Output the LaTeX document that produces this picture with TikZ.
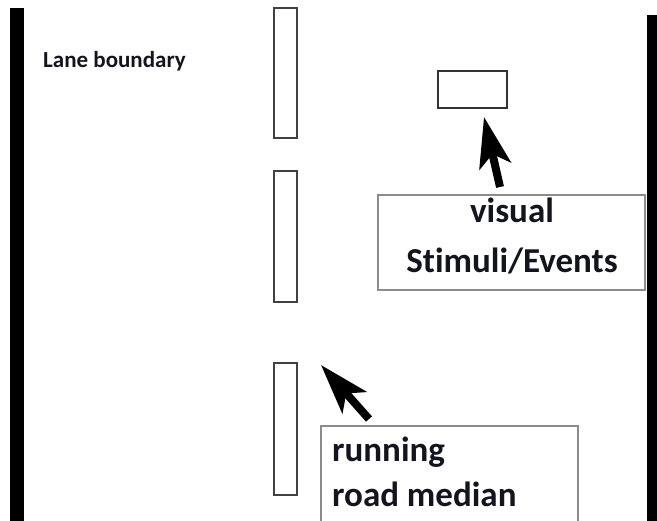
\documentclass[tikz,border=0pt]{standalone}
\usepackage{fontspec}
\setmainfont[Ligatures={NoCommon,NoRare,NoContextual}]{Carlito}
\usetikzlibrary{arrows.meta}
\definecolor{txt}{HTML}{14141E}
\tikzset{
  bar/.style={fill=black, draw=none},
  median/.style={draw=black!75, line width=1.3pt, fill=white, inner sep=0pt},
  labelbox/.style={draw=black!45, line width=1.3pt, inner sep=0pt},
  bigtxt/.style={inner sep=0pt, text=txt, font=\fontsize{35}{45}\selectfont\bfseries},
  smalltxt/.style={inner sep=0pt, text=txt, font=\fontsize{23}{28}\selectfont\bfseries},
  pointer/.style={line width=8pt, -{Stealth[length=50pt, width=32pt, inset=12pt]}}
}
\begin{document}
\begin{tikzpicture}[x=1pt, y=-1pt]
\useasboundingbox (0,0) rectangle (657,521);
% lane boundaries
\path[bar] (10,8) rectangle (24,521);
\path[bar] (647,15) rectangle (657,521);
\node[smalltxt, anchor=base west] (lane) at (43,68) {Lane boundary};
% running road median segments
\node[median, minimum width=23pt, minimum height=130pt] (m1) at (285.5,73) {};
\node[median, minimum width=23pt, minimum height=131pt] (m2) at (285.5,236.5) {};
\node[median, minimum width=23pt, minimum height=132pt] (m3) at (285.5,429) {};
% stimulus
\node[draw=black!80, line width=1.3pt, inner sep=0pt, minimum width=69pt, minimum height=37pt] (stim) at (472.5,89.5) {};
% visual box
\node[labelbox, minimum width=267pt, minimum height=95pt] (vbox) at (511.5,242.5) {};
\node[bigtxt, anchor=base] (v1) at (512,223) {visual};
\node[bigtxt, anchor=base] (v2) at (512,273) {Stimuli/Events};
\coordinate (vtail) at (500,187);
\coordinate (vtip) at (484,117);
\draw[pointer] (vtail) -- (vtip);
% running box (runs off the bottom)
\coordinate (rbl) at (321,521);
\coordinate (rtl) at (321,426);
\coordinate (rtr) at (578,426);
\coordinate (rbr) at (578,521);
\draw[draw=black!45, line width=1.3pt] (rbl) -- (rtl) -- (rtr) -- (rbr);
\node[bigtxt, anchor=base west] (r1) at (332,462) {running};
\node[bigtxt, anchor=base west] (r2) at (332,507) {road median};
\coordinate (rtail) at (369,419);
\coordinate (rtip) at (321,365);
\draw[pointer] (rtail) -- (rtip);
\end{tikzpicture}
\end{document}
